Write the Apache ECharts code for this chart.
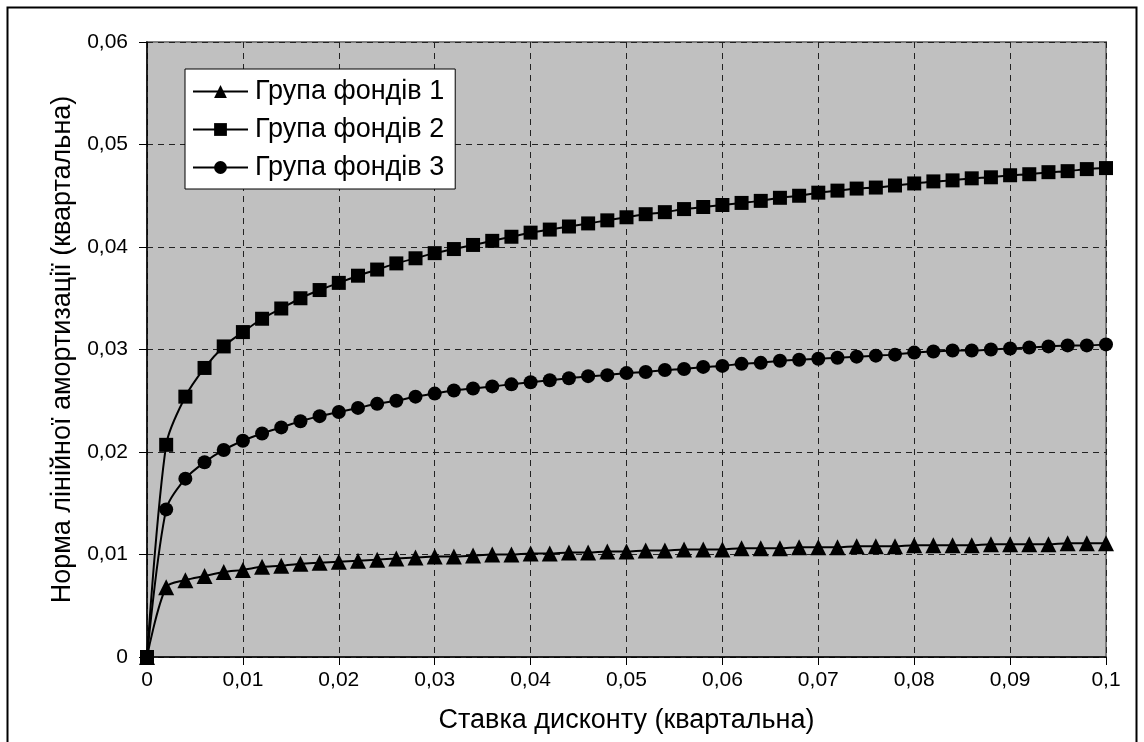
<!DOCTYPE html>
<html>
<head>
<meta charset="utf-8">
<script src="https://cdn.jsdelivr.net/npm/echarts@6/dist/echarts.min.js"></script>
<style>
html,body{margin:0;padding:0;background:#fff;}
#chart{width:1144px;height:742px;}
</style>
</head>
<body>
<div id="chart"></div>
<script>
const xValues = [0,0.002,0.004,0.006,0.008,0.010,0.012,0.014,0.016,0.018,0.020,0.022,0.024,0.026,0.028,0.030,0.032,0.034,0.036,0.038,0.040,0.042,0.044,0.046,0.048,0.050,0.052,0.054,0.056,0.058,0.060,0.062,0.064,0.066,0.068,0.070,0.072,0.074,0.076,0.078,0.080,0.082,0.084,0.086,0.088,0.090,0.092,0.094,0.096,0.098,0.100];
const group1 = [0,0.0068,0.0075,0.0079,0.0083,0.0085,0.0088,0.0089,0.0091,0.0092,0.0093,0.0094,0.0095,0.0096,0.0097,0.0098,0.0098,0.0099,0.0100,0.0100,0.0101,0.0101,0.0102,0.0102,0.0103,0.0103,0.0104,0.0104,0.0105,0.0105,0.0105,0.0106,0.0106,0.0106,0.0107,0.0107,0.0107,0.0108,0.0108,0.0108,0.0109,0.0109,0.0109,0.0109,0.0110,0.0110,0.0110,0.0110,0.0111,0.0111,0.0111];
const group2 = [0,0.0207,0.0254,0.0282,0.0303,0.0317,0.0330,0.0340,0.0350,0.0358,0.0365,0.0372,0.0378,0.0384,0.0389,0.0394,0.0398,0.0402,0.0406,0.0410,0.0414,0.0417,0.0420,0.0423,0.0426,0.0429,0.0432,0.0434,0.0437,0.0439,0.0441,0.0443,0.0445,0.0448,0.0450,0.0453,0.0455,0.0457,0.0458,0.0460,0.0462,0.0464,0.0465,0.0467,0.0468,0.0470,0.0471,0.0473,0.0474,0.0476,0.0477];
const group3 = [0,0.0144,0.0174,0.0190,0.0202,0.0211,0.0218,0.0224,0.0230,0.0235,0.0239,0.0243,0.0247,0.0250,0.0254,0.0257,0.0260,0.0262,0.0264,0.0266,0.0268,0.0270,0.0272,0.0274,0.0275,0.0277,0.0278,0.0280,0.0281,0.0283,0.0284,0.0286,0.0287,0.0289,0.0290,0.0291,0.0292,0.0293,0.0294,0.0295,0.0297,0.0298,0.0299,0.0299,0.0300,0.0301,0.0302,0.0303,0.0304,0.0304,0.0305];
const seriesNames = ['Група фондів 1','Група фондів 2','Група фондів 3'];
const xTitle = 'Ставка дисконту (квартальна)';
const yTitle = 'Норма лінійної амортизації (квартальна)';

const FONT = '"Liberation Sans", Arial, sans-serif';
function fmt(v){ return String(Math.round(v*1000)/1000).replace('.', ','); }
function pairs(ys){ return xValues.map((x,i)=>[x, ys[i]]); }

const chart = echarts.init(document.getElementById('chart'), null, {renderer:'canvas'});
const lineStyle = {color:'#000', width:2};
function mkSeries(name, data, symbol, size){
  return {
    name, type:'line', data: pairs(data), symbol, symbolSize:size,
    smooth:0.3, clip:false, showAllSymbol:true,
    lineStyle, itemStyle:{color:'#000', borderWidth:0},
    emphasis:{disabled:true}, animation:false
  };
}
chart.setOption({
  animation:false,
  backgroundColor:'#fff',
  textStyle:{fontFamily:FONT, color:'#000'},
  graphic:[{type:'rect', shape:{x:7.5, y:7.5, width:1129, height:760}, style:{fill:'none', stroke:'#000', lineWidth:2}, silent:true, z:-1}],
  grid:{left:147, right:38, top:42, bottom:85, show:true, backgroundColor:'#C0C0C0', borderColor:'#808080', borderWidth:2},
  legend:{
    orient:'vertical', left:185, top:69, padding:[9,11,8,7], itemGap:11,
    itemWidth:55, itemHeight:16,
    backgroundColor:'#fff', borderColor:'#000', borderWidth:1,
    textStyle:{fontFamily:FONT, fontSize:27, color:'#000', padding:[0,0,0,2]},
    data:seriesNames
  },
  xAxis:{
    type:'value', min:0, max:0.1, interval:0.01,
    name:xTitle, nameLocation:'middle', nameGap:50,
    nameTextStyle:{fontFamily:FONT, fontSize:27, color:'#000'},
    axisLine:{show:true, onZero:false, lineStyle:{color:'#000', width:1.5}},
    axisTick:{show:true, inside:false, length:8, lineStyle:{color:'#000', width:1}},
    axisLabel:{fontFamily:FONT, fontSize:21, color:'#000', margin:13, formatter:fmt},
    splitLine:{show:true, lineStyle:{color:'#222', width:1, type:[6,5]}}
  },
  yAxis:{
    type:'value', min:0, max:0.06, interval:0.01,
    name:yTitle, nameLocation:'middle', nameGap:68,
    nameTextStyle:{fontFamily:FONT, fontSize:27, color:'#000'},
    axisLine:{show:true, lineStyle:{color:'#000', width:1.5}},
    axisTick:{show:true, inside:false, length:8, lineStyle:{color:'#000', width:1}},
    axisLabel:{fontFamily:FONT, fontSize:21, color:'#000', margin:19, formatter:fmt},
    splitLine:{show:true, lineStyle:{color:'#222', width:1, type:[6,5]}}
  },
  series:[
    mkSeries(seriesNames[0], group1, 'triangle', 16),
    mkSeries(seriesNames[1], group2, 'rect', 14),
    mkSeries(seriesNames[2], group3, 'circle', 14)
  ]
});
</script>
</body>
</html>
